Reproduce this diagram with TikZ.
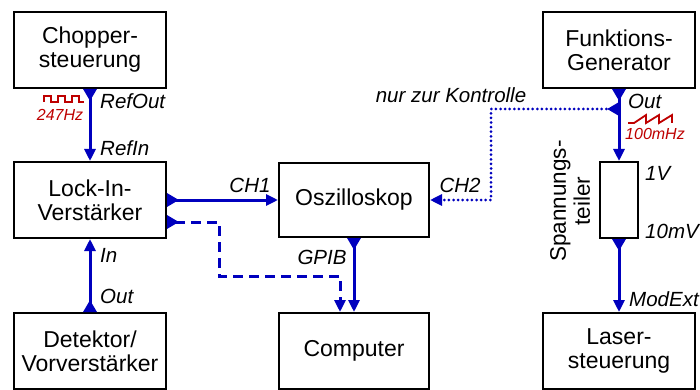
\documentclass[tikz,border=0pt]{standalone}
\usepackage{fontspec}
\setmainfont{Liberation Sans}
\usetikzlibrary{arrows.meta}
\definecolor{sigblue}{RGB}{0,0,190}
\definecolor{sigred}{RGB}{190,0,0}

\begin{document}
\begin{tikzpicture}[x=1pt,y=-1pt,
  box/.style={draw=black, line width=2pt, fill=white, minimum width=152pt,
    minimum height=76pt, inner sep=0pt, align=center,
    font=\fontsize{23}{24}\selectfont},
  sig/.style={draw=sigblue, line width=3pt,
    {Triangle[reversed,length=12pt,width=13pt]}-{Triangle[length=12pt,width=11pt]}},
  lab/.style={font=\fontsize{20.5}{24}\selectfont\itshape, inner sep=0pt},
  freq/.style={font=\fontsize{16}{18}\selectfont\itshape, text=sigred, inner sep=0pt},
  wave/.style={draw=sigred, line width=1.8pt, line join=miter}
]
\useasboundingbox[fill=white] (0,0) rectangle (700,390);

% instrument boxes
\node[box] (chop) at (90,50)  {Chopper-\\steuerung};
\node[box] (fg)   at (619,50) {Funktions-\\Generator};
\node[box] (lock) at (90,200) {Lock-In-\\Verstärker};
\node[box, minimum width=150pt, minimum height=74pt] (osc) at (354,200) {Oszilloskop};
\node[box] (det)  at (90,351) {Detektor/\\Vorverstärker};
\node[box, minimum width=150pt] (comp) at (354,351) {Computer};
\node[box] (laser) at (619,351) {Laser-\\steuerung};
\node[box, minimum width=38pt, minimum height=76pt] (div) at (619,200) {};
\node[rotate=90, align=center, inner sep=0pt, font=\fontsize{22.5}{24}\selectfont]
  (divlab) at (570,201) {Spannungs-\\teiler};

% signal connections
\draw[sig] (chop.south) -- (lock.north);
\draw[sig] (det.north) -- (lock.south);
\draw[sig] (lock.east) -- (osc.west);
\draw[sig] (osc.south) -- (comp.north);
\draw[sig] (fg.south) -- (div.north);
\draw[sig] (div.south) -- (laser.north);

% digital path from the lock-in amplifier to the computer
\coordinate (dk) at (219,276);
\draw[sig, dash pattern=on 10pt off 6pt]
  ([yshift=-22pt]lock.east) -| (dk) -| ([xshift=-14pt]comp.north);

% monitoring branch from the function generator to CH2
\coordinate (tap) at (619,109);
\coordinate (dk2) at (491,200);
\draw[sig, line cap=round, dash pattern=on 0pt off 4.6pt]
  (tap) -| (dk2) -- (osc.east);

% connector labels
\node[lab, anchor=west] (refout) at (100,101) {RefOut};
\node[lab, anchor=west] (refin)  at (100,148) {RefIn};
\node[lab, anchor=west] (inlab)  at (100,255) {In};
\node[lab, anchor=west] (outdet) at (100,296) {Out};
\node[lab] (ch1)  at (250,185) {CH1};
\node[lab] (ch2)  at (460,185) {CH2};
\node[lab] (gpib) at (322,257) {GPIB};
\node[lab] (kontr) at (451,95) {nur zur Kontrolle};
\node[lab, anchor=west] (outfg) at (628,101) {Out};
\node[lab, anchor=west] (v1)    at (645,173) {1V};
\node[lab, anchor=west] (v2)    at (645,231) {10mV};
\node[lab, anchor=west] (modext) at (629,299) {ModExt};

% reference square wave
\draw[wave] (44,102) -- (44,96) -- (51,96) -- (51,102) -- (58,102) -- (58,96)
  -- (65,96) -- (65,102) -- (72,102) -- (72,96) -- (79,96) -- (79,102) -- (84,102);
\node[freq] (f1) at (60,115) {247Hz};

% modulation sawtooth
\draw[wave] (628,123) -- (634,123) -- (646,115) -- (646,123) -- (659,115)
  -- (659,123) -- (672,115) -- (672,123);
\node[freq, anchor=west] (f2) at (625,134) {100mHz};
\end{tikzpicture}
\end{document}
